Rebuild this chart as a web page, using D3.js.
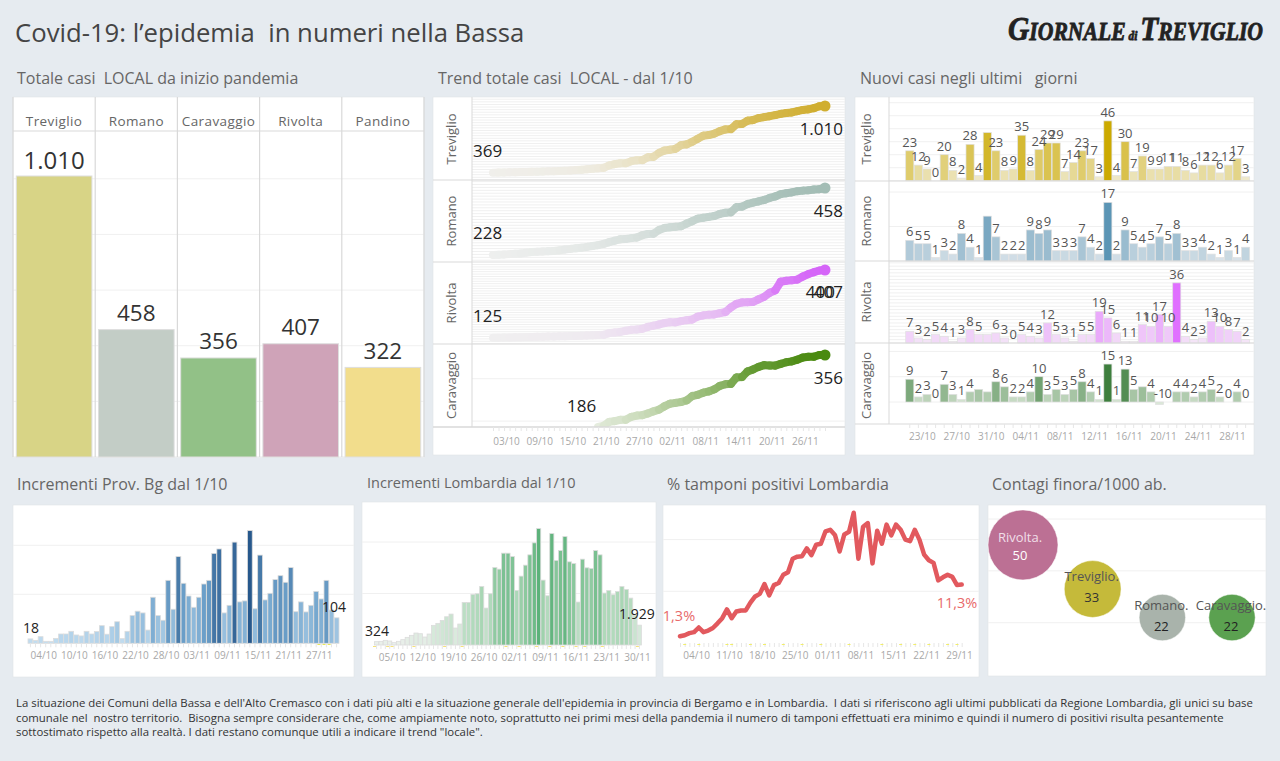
<!DOCTYPE html>
<html>
<head>
<meta charset="utf-8">
<script src="https://cdn.jsdelivr.net/npm/d3@7"></script>
<style>
  body { margin: 0; background: #e6ebf0; }
  svg { display: block; font-family: "Open Sans", sans-serif; }
  text { white-space: pre; }
</style>
</head>
<body>
<svg id="chart" width="1280" height="761"></svg>
<script>
// totale casi
const towns = ["Treviglio", "Romano", "Caravaggio", "Rivolta", "Pandino"];
const totals = [1010, 458, 356, 407, 322];

// trend cumulato dal 1/10
const trendNames = ["Treviglio", "Romano", "Rivolta", "Caravaggio"];
const trendTreviglio = [369,370,371,373,374,375,376,377,378,380,382,384,386,388,391,394,398,402,406,411,416,
  439,451,460,460,480,488,490,518,522,559,582,590,599,634,642,666,695,724,731,745,768,785,788,834,838,868,875,894,903,912,923,934,942,948,960,972,978,990,1007,1010];
const trendRomano = [228,229,230,231,232,233,236,238,239,240,241,242,244,247,249,251,253,256,259,262,266,
  272,277,282,283,286,288,296,300,301,314,321,323,325,327,336,344,353,356,359,362,369,373,375,392,394,403,408,412,417,424,429,437,440,443,447,449,450,453,454,458];
const trendRivolta = [125,125,126,126,127,127,128,128,129,129,130,130,131,131,132,132,133,134,135,136,137,
  144,147,149,154,158,159,162,170,175,180,186,189,189,194,198,201,213,218,221,222,227,232,251,266,272,273,274,285,295,312,322,358,362,364,367,380,390,398,405,407];
const trendCaravaggio = [186,189,
  198,200,203,203,210,213,214,218,223,227,235,241,243,245,249,259,262,267,270,275,283,287,288,303,304,317,322,328,332,331,331,335,339,341,345,350,352,352,356,356];
const trendTicks = ["03/10","09/10","15/10","21/10","27/10","02/11","08/11","14/11","20/11","26/11"];

// nuovi casi, dal 22/10
const newTreviglio = [23,12,9,0,20,8,2,28,4,37,23,8,9,35,8,24,29,29,7,14,23,17,3,46,4,30,7,19,9,9,11,11,8,6,12,12,6,12,17,3];
const newRomano = [6,5,5,1,3,2,8,4,1,13,7,2,2,2,9,8,9,3,3,3,7,4,2,17,2,9,5,4,5,7,5,8,3,3,4,2,1,3,1,4];
const newRivolta = [7,3,2,5,4,1,3,8,5,5,6,3,0,5,4,3,12,5,3,1,5,5,19,15,6,1,1,11,10,17,10,36,4,2,3,13,10,8,7,2];
const newCaravaggio = [9,2,3,0,7,3,1,4,5,4,8,6,2,2,4,10,3,5,3,5,8,4,1,15,1,13,5,6,4,-1,0,4,4,2,4,5,2,0,4,0];
const newHidden = [[9], [9], [9], [8, 9, 27]];
const newTicks = ["23/10","27/10","31/10","04/11","08/11","12/11","16/11","20/11","24/11","28/11"];

// incrementi
const incBergamo = [18,12,27,8,8,20,38,38,49,34,30,49,38,48,72,37,68,88,19,49,113,131,124,54,188,113,94,257,139,354,245,193,147,188,242,257,367,385,124,155,413,169,173,460,141,360,177,204,260,276,249,309,129,169,128,155,212,181,257,136,104];
const incBergamoTicks = ["04/10","10/10","16/10","22/10","28/10","03/11","09/11","15/11","21/11","27/11"];
const incLombardia = [324,355,452,388,226,355,517,743,937,1163,1098,775,1066,1906,2100,2390,2746,3004,1647,2035,4134,4134,4910,4974,5685,3585,4974,7526,7364,8915,8915,8592,5297,6686,7752,8753,9916,11305,6299,4780,10821,8204,9173,10530,8075,7914,4167,8333,7494,7429,9173,8753,5039,5297,4877,5200,5685,5394,4554,2907,1929];
const incLombardiaTicks = ["05/10","12/10","19/10","26/10","02/11","09/11","16/11","23/11","30/11"];

// % tamponi positivi
const positivi = [1.3,1.5,1.9,2.1,3.0,2.1,2.4,2.9,3.8,4.8,6.5,4.8,6.1,6.3,6.3,7.8,9.0,9.5,11.4,9.2,11.2,11.6,13.2,13.7,16.3,16.7,16.8,18.3,17.0,19.0,19.2,21.6,21.9,20.9,17.7,21.0,21.5,25.2,16.3,22.5,23.2,15.4,21.7,19.2,22.9,20.8,22.9,21.9,20.0,19.7,21.9,20.0,17.1,16.0,15.5,12.1,12.7,13.2,12.8,11.2,11.3];
const positiviTicks = ["04/10","11/10","18/10","25/10","01/11","08/11","15/11","22/11","29/11"];

// giorni con i segnetti colorati sulla linea di base
const dotsBergamo = [57, 58, 59];
const dotsLombardia = [0, 3, 4, 9, 16, 20, 30, 33, 37, 40, 43, 46, 48, 52, 60];
const dotsPositivi = [1, 4, 10, 11, 15, 18, 22, 26, 30, 36, 43, 47, 50, 53, 57, 59];

// contagi / 1000 ab.
const contagiNames = ["Rivolta", "Treviglio", "Romano", "Caravaggio"];
const contagi = [50, 33, 22, 22];

const noteLines = [
  "La situazione dei Comuni della Bassa e dell'Alto Cremasco con i dati più alti e la situazione generale dell'epidemia in provincia di Bergamo e in Lombardia.  I dati si riferiscono agli ultimi pubblicati da Regione Lombardia, gli unici su base",
  "comunale nel  nostro territorio.  Bisogna sempre considerare che, come ampiamente noto, soprattutto nei primi mesi della pandemia il numero di tamponi effettuati era minimo e quindi il numero di positivi risulta pesantemente",
  "sottostimato rispetto alla realtà. I dati restano comunque utili a indicare il trend \"locale\"."
];

const svg = d3.select("#chart");
const grid = "#f0f0f0", edge = "#d9d9d9", tickGrey = "#a8a8a8", labelGrey = "#666";
const fmt = d3.timeFormat("%d/%m");
const day0 = new Date(2020, 9, 1);
const allDays = d3.timeDay.range(day0, new Date(2020, 11, 1));  // 1/10 - 30/11
const lastDays = allDays.slice(21);  // 22/10 - 30/11

function label(x, y, txt, size, color, anchor) {
  return svg.append("text").attr("x", x).attr("y", y).attr("font-size", size)
    .attr("fill", color || "#333").attr("text-anchor", anchor || "start").text(txt);
}
function panel(x0, y0, x1, y1) {
  svg.append("rect").attr("x", x0).attr("y", y0).attr("width", x1 - x0).attr("height", y1 - y0)
    .attr("fill", "#fff").attr("stroke", "#e0e3e6").attr("stroke-width", 0.6);
}
function hgrid(x0, x1, y, values, color) {
  svg.append("g").selectAll("line").data(values).enter().append("line")
    .attr("x1", x0).attr("x2", x1).attr("y1", d => y(d)).attr("y2", d => y(d))
    .attr("stroke", color || grid).attr("stroke-width", 1);
}
// asse con una tacca al giorno, etichette solo su alcune date
function dayAxis(scale, days, ticks, yAxis, textY, dx) {
  const g = svg.append("g").attr("transform", "translate(0," + yAxis + ")")
    .call(d3.axisBottom(scale).tickValues(days).tickSize(4)
      .tickFormat(d => ticks.includes(fmt(d)) ? fmt(d) : ""));
  g.select(".domain").remove();
  g.selectAll("line").attr("stroke", "#e6e6e6");
  g.selectAll("text").attr("y", textY).attr("dy", 0).attr("dx", dx)
    .attr("fill", tickGrey).attr("font-size", 10).attr("font-family", "Open Sans");
}
function baseDots(xPos, yPos, days, color) {
  svg.append("g").selectAll("rect").data(days).enter().append("rect")
    .attr("x", d => xPos(allDays[d]) - 1.5).attr("y", yPos).attr("width", 3).attr("height", 1)
    .attr("fill", color);
}

// titoli
label(15, 42, "Covid-19: l’epidemia  in numeri nella Bassa", 25.7, "#444");
label(17, 84, "Totale casi  LOCAL da inizio pandemia", 16, labelGrey);
label(438, 84, "Trend totale casi  LOCAL - dal 1/10", 16, labelGrey);
label(860, 84, "Nuovi casi negli ultimi   giorni", 16, labelGrey);
label(17, 490, "Incrementi Prov. Bg dal 1/10", 16, labelGrey);
label(367, 488, "Incrementi Lombardia dal 1/10", 14.5, labelGrey);
label(667, 490, "% tamponi positivi Lombardia", 16, labelGrey);
label(992, 490, "Contagi finora/1000 ab.", 16, labelGrey);

// logo
const logo = svg.append("text").attr("x", 1008).attr("y", 40)
  .attr("font-family", "Liberation Serif").attr("font-weight", "bold").attr("font-style", "italic")
  .attr("fill", "#222").attr("stroke", "#222").attr("stroke-width", 0.8)
  .attr("textLength", 255).attr("lengthAdjust", "spacingAndGlyphs");
[["G", 34], ["IORNALE", 25], [" di ", 13], ["T", 34], ["REVIGLIO", 25]].forEach(p => {
  logo.append("tspan").attr("font-size", p[1]).text(p[0]);
});

// ---- totale casi
(function () {
  const colors = ["#d8d486", "#c3cdc6", "#92c187", "#cfa3b8", "#f2dd8c"];
  const x = d3.scaleBand().domain(towns).range([13, 424]).paddingInner(0.08).paddingOuter(0.04);
  const y = d3.scaleLinear().domain([0, 1010]).range([457, 176]);
  panel(13, 97, 424, 457);
  hgrid(13, 424, y, d3.range(0, 1400, 200).filter(v => y(v) > 131));
  const cols = x.step();
  svg.append("g").selectAll("line").data(d3.range(0, 6)).enter().append("line")
    .attr("x1", d => 13 + d * cols).attr("x2", d => 13 + d * cols)
    .attr("y1", 97).attr("y2", 457).attr("stroke", edge).attr("stroke-width", 1.2);
  svg.append("line").attr("x1", 13).attr("x2", 424).attr("y1", 131).attr("y2", 131)
    .attr("stroke", edge).attr("stroke-width", 1.2);
  svg.append("g").selectAll("rect").data(totals).enter().append("rect")
    .attr("x", (d, i) => x(towns[i])).attr("width", x.bandwidth())
    .attr("y", d => y(d)).attr("height", d => y(0) - y(d))
    .attr("fill", (d, i) => colors[i]).attr("stroke", "#dedede");
  towns.forEach((t, i) => {
    const cx = x(t) + x.bandwidth() / 2;
    label(cx, 126, t, 13.5, labelGrey, "middle").attr("letter-spacing", 0.4);
    label(cx, y(totals[i]) - (i ? 8.5 : 7), d3.format(",")(totals[i]).replace(",", "."), i ? 22.5 : 24, "#333", "middle");
  });
})();

// ---- trend
(function () {
  const series = [trendTreviglio, trendRomano, trendRivolta, trendCaravaggio];
  const tops = [98, 180, 262, 344], bottoms = [180, 262, 344, 427];
  const yFirst = [172.7, 255, 337.7, 427], yLast = [106, 188, 270, 355];
  const ends = ["#d0ae30", "#a3bdb5", "#d565f8", "#4a8a10"];
  const starts = ["#f0efeb", "#eeefee", "#f0eff0", "#e8eee2"];
  const steps = [25, 10, 10, 100];
  const firstText = ["369", "228", "125", "186"], lastText = ["1.010", "458", "407", "356"];
  const firstX = [473, 473, 473, 567], firstY = [157, 239, 322, 412], lastY = [135, 217, 298, 384];
  const x = d3.scaleTime().domain([day0, allDays[60]]).range([493, 825]);
  panel(433, 97, 845, 455);
  series.forEach((vals, r) => {
    const y = d3.scaleLinear().domain([vals[0], vals[vals.length - 1]]).range([yFirst[r], yLast[r]]);
    const lo = Math.ceil(y.invert(bottoms[r]) / steps[r]) * steps[r];
    hgrid(472, 845, y, d3.range(lo, y.invert(tops[r]), steps[r]));
    const days = allDays.slice(allDays.length - vals.length);
    const color = d3.scaleLinear().domain([vals[0], vals[vals.length - 1]]).range([starts[r], ends[r]]);
    const line = d3.line().x(d => x(d[0])).y(d => y(d[1]));
    const clip = "clipTrend" + r;
    svg.append("clipPath").attr("id", clip).append("rect")
      .attr("x", 472).attr("y", tops[r]).attr("width", 373).attr("height", bottoms[r] - tops[r]);
    svg.append("g").attr("clip-path", "url(#" + clip + ")").selectAll("path")
      .data(d3.pairs(vals.map((v, i) => [days[i], v]))).enter().append("path")
      .attr("d", d => line(d)).attr("fill", "none").attr("stroke-width", 8)
      .attr("stroke-linecap", "round").attr("stroke", d => color(d[1][1]));
    svg.append("circle").attr("cx", x(days[days.length - 1])).attr("cy", y(vals[vals.length - 1]))
      .attr("r", 5.5).attr("fill", ends[r]);
    label(firstX[r], firstY[r], firstText[r], 17, "#222");
    if (r === 2) label(835, lastY[r], "400", 17, "#222", "end");
    label(843, lastY[r], lastText[r], 17, "#222", "end");
    label(0, 0, trendNames[r], 13, labelGrey, "middle")
      .attr("transform", "translate(456," + ((tops[r] + bottoms[r]) / 2) + ") rotate(-90)");
    svg.append("line").attr("x1", 433).attr("x2", 845).attr("y1", bottoms[r]).attr("y2", bottoms[r])
      .attr("stroke", edge).attr("stroke-width", r === 3 ? 1.6 : 1);
  });
  svg.append("line").attr("x1", 472).attr("x2", 472).attr("y1", 97).attr("y2", 427).attr("stroke", edge);
  dayAxis(x, allDays, trendTicks, 427, 18, 2);
})();

// ---- nuovi casi
(function () {
  const series = [newTreviglio, newRomano, newRivolta, newCaravaggio];
  const tops = [97, 181, 261, 343], baselines = [180.7, 261, 343, 402], bottoms = [181, 261, 343, 424];
  const unit = [1.3, 3.45, 1.67, 2.53];
  const steps = [10, 10, 2, 10];
  const lights = ["#f1edd8", "#e0e7ec", "#f5ebf7", "#dbe8d8"];
  const darks = ["#ccaa00", "#5b95b5", "#e070ff", "#3e7f3e"];
  const x = d3.scaleBand().domain(lastDays).range([905.7, 1249.7]).paddingInner(0.06);
  panel(855, 97, 1254, 455);
  series.forEach((vals, r) => {
    const y = d3.scaleLinear().domain([0, 10]).range([baselines[r], baselines[r] - unit[r] * 10]);
    hgrid(889, 1254, y, d3.range(0, y.invert(tops[r]), steps[r]));
    const color = d3.scaleLinear().domain([0, d3.max(vals)]).range([lights[r], darks[r]]);
    svg.append("g").selectAll("rect").data(vals).enter().append("rect")
      .attr("x", (d, i) => x(lastDays[i])).attr("width", x.bandwidth())
      .attr("y", d => y(Math.max(d, 0))).attr("height", d => Math.abs(y(d) - y(0)))
      .attr("fill", d => color(Math.max(d, 0))).attr("stroke", "#e0e0e0").attr("stroke-width", 0.7);
    const shown = vals.map((v, i) => ({ v, i })).filter(d => !newHidden[r].includes(d.i));
    svg.append("g").selectAll("text").data(shown).enter().append("text")
      .attr("x", d => x(lastDays[d.i]) + x.bandwidth() / 2)
      .attr("font-size", 13).attr("fill", "#555").attr("text-anchor", "middle")
      .attr("y", d => y(Math.max(d.v, 0)) - 4).text(d => d.v);
    label(0, 0, trendNames[r], 13, labelGrey, "middle")
      .attr("transform", "translate(871," + ((tops[r] + bottoms[r]) / 2 + (r === 3 ? 2 : 0)) + ") rotate(-90)");
    svg.append("line").attr("x1", 855).attr("x2", 1254).attr("y1", bottoms[r]).attr("y2", bottoms[r])
      .attr("stroke", edge);
  });
  svg.append("line").attr("x1", 889).attr("x2", 889).attr("y1", 97).attr("y2", 424).attr("stroke", edge);
  dayAxis(x, lastDays, newTicks, 424, 16, 4);
})();

// ---- incrementi
function incrementChart(vals, ticks, box, yBase, unit, gridVals, range, colors, dx) {
  const x = d3.scaleBand().domain(allDays).range(range).paddingInner(0.06);
  const y = d3.scaleLinear().domain([0, 1000]).range([yBase, yBase - unit * 1000]);
  panel(box[0], box[1], box[2], box[3]);
  hgrid(box[0], box[2], y, gridVals);
  const color = d3.scaleLinear().domain([0, d3.max(vals) / 2, d3.max(vals)]).range(colors);
  svg.append("g").selectAll("rect").data(vals).enter().append("rect")
    .attr("x", (d, i) => x(allDays[i])).attr("width", x.bandwidth())
    .attr("y", d => y(d)).attr("height", d => y(0) - y(d))
    .attr("fill", d => color(d)).attr("stroke", "#dcdcdc").attr("stroke-width", 0.8);
  dayAxis(x, allDays, ticks, yBase, 16, dx);
  return x;
}
const xBergamo = incrementChart(incBergamo, incBergamoTicks, [13, 505, 354, 677], 643.3, 0.245, [200, 400],
  [28, 339], ["#c6e0f2", "#6fa3cc", "#27588c"], -2);
baseDots(xBergamo, 644, dotsBergamo, "#e8e85a");
label(23, 633, "18", 14, "#222");
label(322, 612, "104", 14, "#222");
const xLombardia = incrementChart(incLombardia, incLombardiaTicks, [362, 502, 656, 677], 645, 0.0103, [5000, 10000],
  [374.5, 641.5], ["#eef2ee", "#a8d6b4", "#5cb27a"], -2);
baseDots(xLombardia, 646, dotsLombardia, "#f5e27a");
label(365, 636, "324", 14, "#222");
label(619, 619, "1.929", 14, "#222");

// ---- % tamponi positivi
(function () {
  const x = d3.scaleTime().domain([day0, allDays[60]]).range([680, 961.7]);
  const y = d3.scaleLinear().domain([0, 10]).range([643, 591.3]);
  panel(663, 505, 979, 677);
  hgrid(663, 979, y, [10, 20]);
  svg.append("path").datum(positivi)
    .attr("d", d3.line().x((d, i) => x(allDays[i])).y(d => y(d)))
    .attr("fill", "none").attr("stroke", "#e2595e").attr("stroke-width", 4.5)
    .attr("stroke-linejoin", "round").attr("stroke-linecap", "round");
  dayAxis(x, allDays, positiviTicks, 643, 16, 2);
  baseDots(x, 644, dotsPositivi, "#f2ee6a");
  label(679, 621, "1,3%", 14.5, "#e86a6a", "middle");
  label(957, 608, "11,3%", 14.5, "#e86a6a", "middle");
})();

// ---- contagi
(function () {
  const colors = ["#bc7094", "#c5ba3a", "#a9b3ab", "#5ba150"];
  const nameFill = ["#f0dfe8", "#555", "#555", "#555"], valueFill = ["#fff", "#333", "#222", "#222"];
  const x = d3.scalePoint().domain(contagiNames).range([1023, 1232]);
  const y = d3.scaleLinear().domain([0, 60]).range([674.6, 519]);
  const r = d3.scaleSqrt().domain([0, 50]).range([0, 35]);
  panel(988, 505, 1266, 676);
  hgrid(988, 1266, y, [20, 40, 60]);
  svg.append("g").selectAll("circle").data(contagi).enter().append("circle")
    .attr("cx", (d, i) => x(contagiNames[i])).attr("cy", d => y(d)).attr("r", d => r(d))
    .attr("fill", (d, i) => colors[i]).attr("stroke", "#fff").attr("stroke-opacity", 0.5);
  contagi.forEach((d, i) => {
    const cx = x(contagiNames[i]) - (i ? 1 : 3);
    label(cx, y(d) - 3 - (i ? 5 : 0), contagiNames[i] + ".", 13, nameFill[i], "middle");
    label(cx, y(d) + 16 - (i ? 3 : 0) + (i ? 0 : -1), d, 13, valueFill[i], "middle");
  });
})();

// nota
noteLines.forEach((t, i) => label(16, 707 + i * 14.5, t, 11.4, "#333"));
</script>
</body>
</html>
